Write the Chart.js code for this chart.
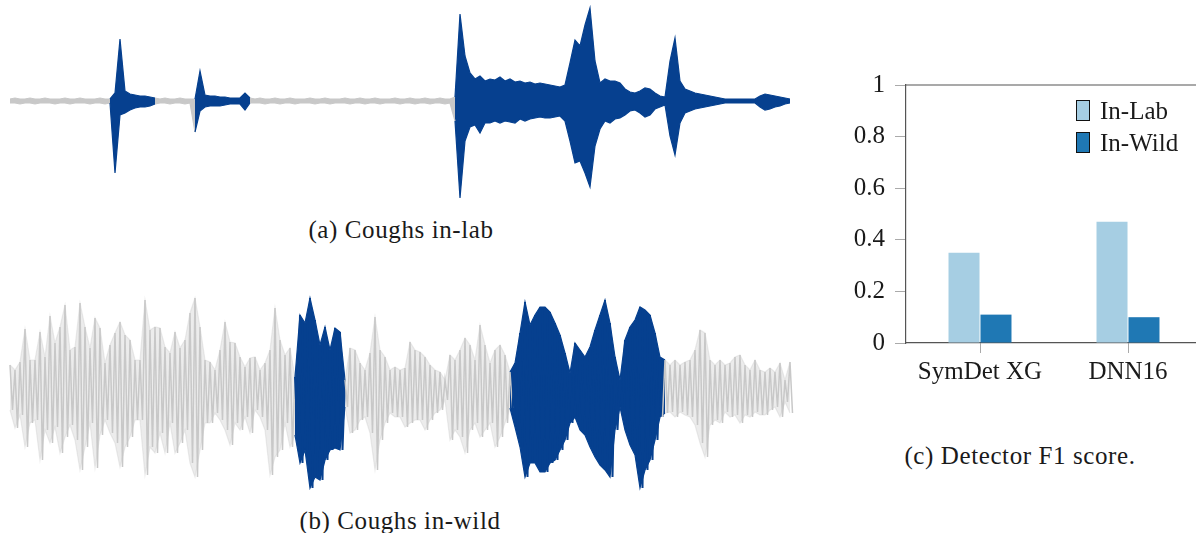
<!DOCTYPE html>
<html><head><meta charset="utf-8">
<script src="https://cdn.jsdelivr.net/npm/chart.js@4"></script>
<style>
html,body{margin:0;padding:0;background:#fff;overflow:hidden;width:1196px;height:533px;position:relative;}
canvas{position:absolute;}
.cap{position:absolute;font-family:"Liberation Serif",serif;font-size:25px;line-height:25px;color:#1a1a1a;white-space:nowrap;transform:translateX(-50%);letter-spacing:0.6px;}
</style></head><body>
<canvas id="lab" width="800" height="210" style="left:0;top:0"></canvas>
<canvas id="wild" width="800" height="210" style="left:0;top:285px"></canvas>
<canvas id="bars" width="362" height="340" style="left:840px;top:60px"></canvas>
<div class="cap" style="left:401px;top:217px">(a) Coughs in-lab</div>
<div class="cap" style="left:400px;top:508px">(b) Coughs in-wild</div>
<div class="cap" style="left:1020px;top:443px">(c) Detector F1 score.</div>
<script>
// ---- waveform data (envelope peaks, sampled every 5 time units from t=10) ----
const sampleStart = 10;
const sampleStep = 5;

const labTop = [
  2,3,2,2,3,2,2,3,2,2,2,3,2,2,3,2,2,2,3,2,2,
  8,62,10,7,6,5,5,4,3,
  2,3,2,2,3,2,2,
  2,30,6,5,5,4,4,3,3,3,8,3,
  2,3,2,2,3,2,2,3,2,2,2,3,2,2,3,2,2,2,3,2,2,3,2,2,3,2,2,2,3,2,2,3,2,2,3,2,2,3,2,2,
  4,87,45,28,22,25,20,22,21,24,
  20,22,19,20,18,19,17,18,17,16,
  15,14,16,38,61,55,76,93,40,18,
  22,20,20,18,12,9,8,10,13,12,
  8,5,4,40,63,20,12,10,8,7,
  6,5,4,3,2,2,2,2,2,2,
  2,5,7,6,5,4,3,2
];
const labBottom = [
  2,2,3,2,2,3,2,2,2,3,2,2,3,2,2,2,3,2,2,3,2,
  72,14,12,9,7,6,6,5,3,
  2,2,3,2,2,3,2,
  31,10,6,5,5,5,4,3,3,3,9,2,
  2,2,3,2,2,3,2,2,3,2,2,2,3,2,2,3,2,2,2,3,2,2,3,2,2,3,2,2,2,3,2,2,3,2,2,3,2,2,3,2,
  20,97,40,26,24,32,22,22,20,22,
  20,21,22,18,20,18,17,16,17,17,
  16,15,20,40,62,60,72,86,45,28,
  20,22,18,17,14,10,9,12,16,14,
  8,6,4,35,54,22,12,10,8,7,
  6,5,4,3,2,2,2,2,2,2,
  2,6,9,8,6,5,3,2
];
const labCoughs = [[112,157],[195,252],[454,792]];

const wildTop = [
  25,20,28,61,30,30,58,33,74,47,
  63,85,40,43,87,63,42,72,62,27,
  45,57,68,55,50,30,30,90,60,63,
  62,43,37,58,42,50,77,92,63,30,
  28,20,40,68,48,47,33,23,32,33,
  20,27,40,82,50,35,42,13,75,67,
  92,70,45,63,40,62,58,10,42,40,
  27,20,37,73,40,33,20,23,20,22,
  48,40,38,33,25,20,18,10,35,30,
  40,52,45,30,65,45,27,40,45,35,
  18,27,57,88,65,75,83,83,78,67,
  55,37,17,47,40,33,43,60,75,90,
  67,33,10,50,63,70,83,80,75,57,
  33,30,25,30,25,28,30,40,60,57,
  30,25,30,25,27,33,35,25,20,30,
  20,18,22,18,27,10,28
];
const wildBottom = [
  20,38,25,57,33,30,70,40,53,37,
  63,47,35,50,80,57,33,78,45,30,
  43,53,77,57,47,30,30,85,57,63,
  43,63,33,63,53,40,73,87,60,33,
  33,23,30,40,55,33,40,27,43,20,
  27,40,85,67,60,33,57,45,73,60,
  98,87,90,70,60,58,60,17,43,40,
  30,27,43,80,50,33,23,27,27,37,
  33,30,30,40,30,23,20,10,50,40,
  47,63,40,33,47,40,33,57,47,33,
  18,37,57,87,73,73,82,82,73,70,
  60,50,33,27,40,45,57,67,75,80,
  87,40,17,40,55,65,98,80,70,50,
  27,23,22,27,22,25,27,35,53,67,
  35,30,33,22,27,25,33,25,27,22,
  25,25,20,17,27,12,23
];
const wildCoughs = [[294,344],[512,663]];

// ---- bar chart data ----
const detectors = ['SymDet XG', 'DNN16'];
const inLabF1 = [0.35, 0.47];
const inWildF1 = [0.11, 0.10];
const f1Ticks = [0, 0.2, 0.4, 0.6, 0.8, 1];
const seriesNames = ['In-Lab', 'In-Wild'];

// ---- styles ----
const BLUE = '#06408f';
const GRAY = '#c8c8c8';
const SERIF = "'Liberation Serif', 'Times New Roman', serif";

function envelope(vals, sign) {
  return vals.map((v, i) => ({ x: sampleStart + i * sampleStep, y: sign * v }));
}
function zigzag(top, bottom) {
  const pts = [];
  top.forEach((v, i) => {
    const t = sampleStart + i * sampleStep;
    pts.push({ x: t, y: v });
    pts.push({ x: t + sampleStep / 2, y: -bottom[i] });
  });
  return pts;
}
function inside(c, iv) {
  const m = (c.p0.parsed.x + c.p1.parsed.x) / 2;
  return iv.some(([a, b]) => m >= a && m <= b);
}
function waveChart(id, top, bottom, coughs, ymin, ymax, grayFill, withLines) {
  const col = c => inside(c, coughs) ? BLUE : GRAY;
  const fillCol = c => inside(c, coughs) ? BLUE : grayFill;
  const datasets = [
    { data: envelope(top, 1), pointRadius: 0, tension: 0, fill: false,
      borderWidth: 1.2, borderColor: GRAY, backgroundColor: GRAY,
      segment: { borderColor: withLines ? fillCol : col } },
    { data: envelope(bottom, -1), pointRadius: 0, tension: 0, fill: '-1',
      borderWidth: 1.2, borderColor: GRAY, backgroundColor: grayFill,
      segment: { borderColor: withLines ? fillCol : col, backgroundColor: fillCol } }
  ];
  if (withLines) {
    datasets.unshift({ data: zigzag(top, bottom), pointRadius: 0, tension: 0, fill: false,
      borderWidth: 1.5, borderColor: GRAY,
      segment: { borderColor: col, borderWidth: c => inside(c, coughs) ? 2 : 1.5 } });
  }
  new Chart(document.getElementById(id), {
    type: 'line',
    data: { datasets },
    options: {
      responsive: false, animation: false, devicePixelRatio: 1,
      layout: { padding: 0 },
      plugins: { legend: { display: false }, tooltip: { enabled: false } },
      scales: {
        x: { type: 'linear', min: 0, max: 800, display: false },
        y: { min: ymin, max: ymax, display: false }
      }
    }
  });
}
waveChart('lab', labTop, labBottom, labCoughs, -109, 101, GRAY, false);
waveChart('wild', wildTop, wildBottom, wildCoughs, -105, 105, 'rgba(200,200,200,0.35)', true);

const framePlugin = {
  id: 'frameTop',
  afterDraw(chart) {
    const {ctx, chartArea: a} = chart;
    ctx.save();
    ctx.strokeStyle = '#555'; ctx.lineWidth = 1.2;
    ctx.beginPath(); ctx.moveTo(a.left, a.top); ctx.lineTo(a.right, a.top); ctx.stroke();
    ctx.font = '25px ' + SERIF;
    ctx.textBaseline = 'alphabetic';
    chart.data.datasets.forEach((ds, i) => {
      const bx = a.left + 170, by = a.top + 15 + i * 32;
      ctx.fillStyle = ds.backgroundColor;
      ctx.fillRect(bx, by, 13, 20);
      ctx.strokeStyle = '#111'; ctx.lineWidth = 1;
      ctx.strokeRect(bx + 0.5, by + 0.5, 13, 20);
      ctx.fillStyle = '#1a1a1a';
      ctx.fillText(ds.label, bx + 24, by + 19);
    });
    ctx.restore();
  }
};

new Chart(document.getElementById('bars'), {
  type: 'bar',
  data: {
    labels: detectors,
    datasets: [
      { label: seriesNames[0], data: inLabF1, backgroundColor: '#a6cee3' },
      { label: seriesNames[1], data: inWildF1, backgroundColor: '#1f78b4' }
    ]
  },
  options: {
    responsive: false, animation: false, devicePixelRatio: 1,
    layout: { padding: { top: 23, right: 0, left: 0, bottom: 0 } },
    datasets: { bar: { categoryPercentage: 0.432, barPercentage: 0.97 } },
    plugins: { legend: { display: false }, tooltip: { enabled: false } },
    scales: {
      x: {
        afterFit: s => { s.height = 57; },
        grid: { offset: false, drawOnChartArea: false, drawTicks: true, tickLength: 10, color: '#aaa' },
        border: { display: true, color: '#555', width: 1.2 },
        ticks: { font: { family: SERIF, size: 25 }, color: '#1a1a1a', padding: 4, maxRotation: 0, autoSkip: false }
      },
      y: {
        min: 0, max: 1,
        afterFit: s => { s.width = 66; },
        afterBuildTicks: s => { s.ticks = f1Ticks.map(v => ({ value: v })); },
        grid: { drawOnChartArea: false, drawTicks: true, tickLength: 11, color: '#aaa' },
        border: { display: true, color: '#555', width: 1.2 },
        ticks: { font: { family: SERIF, size: 25 }, color: '#1a1a1a', padding: 10,
                 callback: v => String(v) }
      }
    }
  },
  plugins: [framePlugin]
});
</script>
</body></html>
